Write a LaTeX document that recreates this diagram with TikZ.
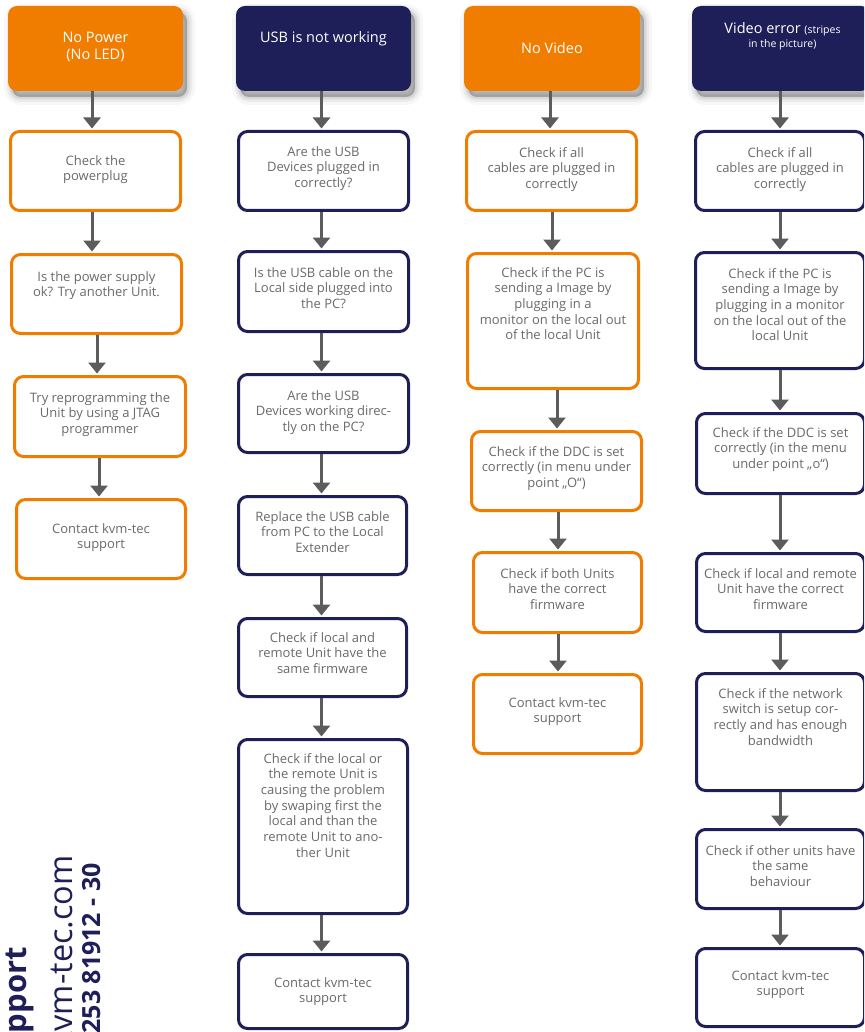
\documentclass[tikz,border=0pt]{standalone}
\usepackage{fontspec}
\setmainfont{Open Sans}
\usetikzlibrary{arrows.meta}
\definecolor{kvmorange}{HTML}{F07D00}
\definecolor{kvmnavy}{HTML}{1E1F58}
\definecolor{txtgray}{HTML}{6A6A6A}
\definecolor{arrgray}{HTML}{5C5C5C}
\begin{document}
\begin{tikzpicture}[x=1pt,y=-1pt,
  hdr/.style={rounded corners=9pt, minimum height=85pt, inner sep=0pt,
    preaction={draw=black, line width=16pt, opacity=0.03, transform canvas={xshift=4pt,yshift=-6pt}},
    preaction={draw=black, line width=10pt, opacity=0.05, transform canvas={xshift=4pt,yshift=-6pt}},
    preaction={draw=black, line width=5pt, opacity=0.08, transform canvas={xshift=4pt,yshift=-6pt}},
    preaction={fill=black, opacity=0.25, transform canvas={xshift=4pt,yshift=-6pt}}},
  hdrO/.style={hdr, fill=kvmorange},
  hdrN/.style={hdr, fill=kvmnavy},
  box/.style={rounded corners=9pt, line width=3pt, fill=white, inner sep=0pt},
  boxO/.style={box, draw=kvmorange},
  boxN/.style={box, draw=kvmnavy},
  txt/.style={text=txtgray, font=\fontsize{13}{15.7}\selectfont, align=center, anchor=north, inner sep=0pt},
  htxt/.style={text=white, font=\fontsize{14.5}{17}\selectfont, align=center, anchor=north, inner sep=0pt},
  arr/.style={draw=arrgray, line width=3pt, -{Triangle[width=17pt,length=11pt]}, shorten >=1.5pt},
  sup/.style={text=kvmnavy, rotate=90, anchor=base east, inner sep=0pt}
]
\useasboundingbox (0,0) rectangle (864,1032);
\clip (0,0) rectangle (864,1032);

% ---------- Column 1: No Power ----------
\node[hdrO, minimum width=175pt] (h1) at (95.5,48.5) {};
\node[htxt] (h1t) at (95.5,31.5) {No Power\\(No LED)};
\node[boxO, minimum width=170pt, minimum height=79pt] (a1) at (95.5,171) {};
\node[boxO, minimum width=170pt, minimum height=79pt] (a2) at (96.5,294) {};
\node[boxO, minimum width=171pt, minimum height=80pt] (a3) at (100,416.5) {};
\node[boxO, minimum width=169pt, minimum height=79pt] (a4) at (101,539) {};
\node[txt] (a1t) at (95.5,155) {Check the\\powerplug};
\node[txt] (a2t) at (96.5,271) {Is the power supply\\ok? Try another Unit.};
\node[txt] (a3t) at (100,392) {Try reprogramming the\\Unit by using a JTAG\\programmer};
\node[txt] (a4t) at (101,523) {Contact kvm-tec\\support};
\draw[arr] ([xshift=-3.5pt]h1.south) -- ([xshift=-3.5pt]a1.north);
\draw[arr] ([xshift=-3.5pt]a1.south) -- ([xshift=-4.5pt]a2.north);
\draw[arr] ([xshift=0.5pt]a2.south) -- ([xshift=-3pt]a3.north);
\draw[arr] ([xshift=-1pt]a3.south) -- ([xshift=-2pt]a4.north);

% ---------- Column 2: USB ----------
\node[hdrN, minimum width=175pt] (h2) at (323.5,48.5) {};
\node[htxt] (h2t) at (323.5,31.5) {USB is not working};
\node[boxN, minimum width=170pt, minimum height=79pt] (b1) at (323.5,171) {};
\node[boxN, minimum width=170pt, minimum height=80pt] (b2) at (323.5,291.5) {};
\node[boxN, minimum width=170pt, minimum height=78pt] (b3) at (323.5,413.5) {};
\node[boxN, minimum width=168pt, minimum height=78pt] (b4) at (322.5,535.5) {};
\node[boxN, minimum width=168pt, minimum height=78pt] (b5) at (322.5,657.5) {};
\node[boxN, minimum width=169pt, minimum height=174pt] (b6) at (323,826.5) {};
\node[boxN, minimum width=169pt, minimum height=74pt] (b7) at (323,991.5) {};
\node[txt] (b1t) at (323.5,146) {Are the USB\\Devices plugged in\\correctly?};
\node[txt] (b2t) at (323.5,267) {Is the USB cable on the\\Local side plugged into\\the PC?};
\node[txt] (b3t) at (323.5,390) {Are the USB\\Devices working direc-\\tly on the PC?};
\node[txt] (b4t) at (322.5,511) {Replace the USB cable\\from PC to the Local\\Extender};
\node[txt] (b5t) at (322.5,632) {Check if local and\\remote Unit have the\\same firmware};
\node[txt] (b6t) at (323,753) {Check if the local or\\the remote Unit is\\causing the problem\\by swaping first the\\local and than the\\remote Unit to ano-\\ther Unit};
\node[txt] (b7t) at (323,977) {Contact kvm-tec\\support};
\draw[arr] ([xshift=-2pt]h2.south) -- ([xshift=-2pt]b1.north);
\draw[arr] ([xshift=-2pt]b1.south) -- ([xshift=-2pt]b2.north);
\draw[arr] ([xshift=-2pt]b2.south) -- ([xshift=-2pt]b3.north);
\draw[arr] ([xshift=-2pt]b3.south) -- ([xshift=-1pt]b4.north);
\draw[arr] ([xshift=-1pt]b4.south) -- ([xshift=-1pt]b5.north);
\draw[arr] ([xshift=-1pt]b5.south) -- ([xshift=-1.5pt]b6.north);
\draw[arr] ([xshift=-1.5pt]b6.south) -- ([xshift=-1.5pt]b7.north);

% ---------- Column 3: No Video ----------
\node[hdrO, minimum width=176pt] (h3) at (552,48.5) {};
\node[htxt] (h3t) at (552,42) {No Video};
\node[boxO, minimum width=170pt, minimum height=79pt] (c1) at (551.5,171) {};
\node[boxO, minimum width=171pt, minimum height=135pt] (c2) at (553,321) {};
\node[boxO, minimum width=170pt, minimum height=79pt] (c3) at (556.5,471) {};
\node[boxO, minimum width=168pt, minimum height=80pt] (c4) at (557.5,592.5) {};
\node[boxO, minimum width=168pt, minimum height=79pt] (c5) at (557.5,714) {};
\node[txt] (c1t) at (551.5,147) {Check if all\\cables are plugged in\\correctly};
\node[txt] (c2t) at (553,267) {Check if the PC is\\sending a Image by\\plugging in a\\monitor on the local out\\of the local Unit};
\node[txt] (c3t) at (556.5,446) {Check if the DDC is set\\correctly (in menu under\\point „O“)};
\node[txt] (c4t) at (557.5,568) {Check if both Units\\have the correct\\firmware};
\node[txt] (c5t) at (557.5,697) {Contact kvm-tec\\support};
\draw[arr] ([xshift=-2pt]h3.south) -- ([xshift=-1.5pt]c1.north);
\draw[arr] ([xshift=0.5pt]c1.south) -- ([xshift=-1pt]c2.north);
\draw[arr] ([xshift=4pt]c2.south) -- ([xshift=0.5pt]c3.north);
\draw[arr] ([xshift=1.5pt]c3.south) -- ([xshift=0.5pt]c4.north);
\draw[arr] ([xshift=0.5pt]c4.south) -- ([xshift=0.5pt]c5.north);

% ---------- Column 4: Video error ----------
\node[hdrN, minimum width=178pt] (h4) at (781,48.5) {};
\node[htxt] (h4t) at (782.5,22) {Video error {\fontsize{10.5}{12}\selectfont (stripes}\\[-3pt]{\fontsize{10.5}{12}\selectfont in the picture)}};
\node[boxN, minimum width=169pt, minimum height=79pt] (d1) at (780,171) {};
\node[boxN, minimum width=169pt, minimum height=116pt] (d2) at (780,310.5) {};
\node[boxN, minimum width=168pt, minimum height=80pt] (d3) at (780.5,453.5) {};
\node[boxN, minimum width=168pt, minimum height=78pt] (d4) at (780.5,592.5) {};
\node[boxN, minimum width=168pt, minimum height=117pt] (d5) at (780.5,732) {};
\node[boxN, minimum width=168pt, minimum height=79pt] (d6) at (780.5,869) {};
\node[boxN, minimum width=168pt, minimum height=78pt] (d7) at (780.5,987.5) {};
\node[txt] (d1t) at (780,147) {Check if all\\cables are plugged in\\correctly};
\node[txt] (d2t) at (780,268) {Check if the PC is\\sending a Image by\\plugging in a monitor\\on the local out of the\\local Unit};
\node[txt] (d3t) at (780.5,427) {Check if the DDC is set\\correctly (in the menu\\under point „o“)};
\node[txt] (d4t) at (780.5,568) {Check if local and remote\\Unit have the correct\\firmware};
\node[txt] (d5t) at (780.5,688) {Check if the network\\switch is setup cor-\\rectly and has enough\\bandwidth};
\node[txt] (d6t) at (780.5,845) {Check if other units have\\the same\\behaviour};
\node[txt] (d7t) at (780.5,970) {Contact kvm-tec\\support};
\draw[arr] ([xshift=-1pt]h4.south) -- (d1.north);
\draw[arr] (d1.south) -- (d2.north);
\draw[arr] (d2.south) -- ([xshift=-0.5pt]d3.north);
\draw[arr] ([xshift=-0.5pt]d3.south) -- ([xshift=-0.5pt]d4.north);
\draw[arr] ([xshift=-0.5pt]d4.south) -- ([xshift=-0.5pt]d5.north);
\draw[arr] ([xshift=-0.5pt]d5.south) -- ([xshift=-0.5pt]d6.north);
\draw[arr] ([xshift=-0.5pt]d6.south) -- ([xshift=-0.5pt]d7.north);

% ---------- Support contact (rotated, cropped at the page edge) ----------
\node[sup, font=\fontsize{31}{31}\selectfont\bfseries] (s1) at (27,947) {Support};
\node[sup, font=\fontsize{32.5}{32.5}\selectfont] (s2) at (72,855) {support@kvm-tec.com};
\node[sup, font=\fontsize{25}{25}\selectfont\bfseries] (s3) at (100,863) {+43 2253 81912 - 30};
\end{tikzpicture}
\end{document}
